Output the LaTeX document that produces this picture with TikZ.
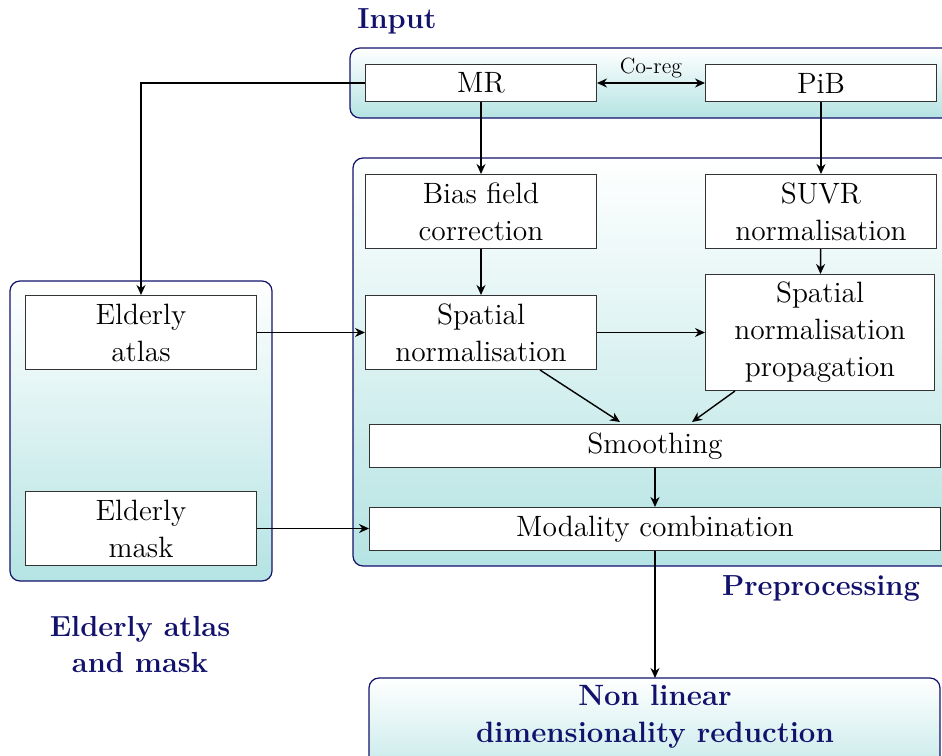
\documentclass[tikz,border=0pt]{standalone}
\usepackage{tikz}
\usetikzlibrary{arrows.meta,positioning}
\definecolor{navy}{RGB}{18,18,108}
\definecolor{teal2}{RGB}{181,227,227}
\tikzset{
  x=0.5pt,y=-0.5pt,
  every node/.style={font=\fontsize{14.7}{18.5}\selectfont},
  stepbox/.style={draw=black!80,fill=white,line width=0.55pt,align=center,inner sep=0pt},
  groupbox/.style={draw=navy,line width=0.6pt,rounded corners=5pt,top color=white,bottom color=teal2},
  grouplabel/.style={text=navy,font=\fontsize{14.5}{18}\selectfont\bfseries,align=center},
  tip/.style={Stealth[length=5pt,width=4.5pt]},
  conn/.style={-{Stealth[length=5pt,width=4.5pt]},line width=0.7pt},
}
\begin{document}
\begin{tikzpicture}
\clip (0,0) rectangle (942,755);
% group backgrounds
\path[groupbox] (350,48) rectangle (1000,118);
\path[groupbox] (353,158) rectangle (1000,566);
\path[groupbox] (10,281) rectangle (272,581);
\path[groupbox] (369,678) rectangle (940,800);
% labels
\node[grouplabel] (linput) at (397,21) {Input};
\node[grouplabel] (lpre) at (821,588) {Preprocessing};
\node[grouplabel] (lelder) at (140,645) {Elderly atlas\\and mask};
\node[grouplabel,font=\fontsize{14.7}{18.5}\selectfont\bfseries] (nldr) at (655,717) {Non linear\\dimensionality reduction};
\coordinate (nldrtop) at (655,678);
% boxes: defined by corners
\newcommand{\stepnode}[6]{\node[stepbox,minimum width=#4*0.5pt-0.55pt,minimum height=#5*0.5pt-0.55pt] (#1) at ({(#2+#2+#4)/2},{#3+#5/2}) {#6};}
\stepnode{mr}{365}{64}{232}{38}{MR}
\stepnode{pib}{705}{64}{232}{38}{PiB}
\stepnode{bias}{365}{174}{232}{75}{Bias field\\correction}
\stepnode{suvr}{705}{174}{232}{75}{SUVR\\normalisation}
\stepnode{snorm}{365}{295}{232}{75}{Spatial\\normalisation}
\stepnode{prop}{705}{274}{230}{117}{Spatial\\normalisation\\propagation}
\stepnode{smooth}{369}{424}{572}{44}{Smoothing}
\stepnode{modal}{369}{507}{572}{44}{Modality combination}
\stepnode{atlas}{25}{295}{232}{75}{Elderly\\atlas}
\stepnode{mask}{25}{491}{232}{75}{Elderly\\mask}
% connectors
\draw[{Stealth[length=5pt,width=4.5pt]}-{Stealth[length=5pt,width=4.5pt]},line width=0.7pt] (mr) -- node[above=-1pt,font=\fontsize{11}{13}\selectfont] (coreg) {Co-reg} (pib);
\draw[conn] (mr.west) -| (atlas.north);
\draw[conn] (mr) -- (bias);
\draw[conn] (pib) -- (suvr);
\draw[conn] (bias) -- (snorm);
\draw[conn] (suvr) -- (prop);
\draw[conn] (atlas) -- (snorm);
\draw[conn] (snorm) -- (prop);
\coordinate (s1) at (540,370);
\coordinate (s2) at (620,422);
\coordinate (p1) at (735,391);
\coordinate (p2) at (692,422);
\draw[conn] (s1) -- (s2);
\draw[conn] (p1) -- (p2);
\coordinate (sm1) at (655,468);
\coordinate (sm2) at (655,507);
\draw[conn] (sm1) -- (sm2);
\draw[conn] (mask) -- (mask -| modal.west);
\coordinate (mo1) at (655,551);
\draw[conn] (mo1) -- (nldrtop);
\end{tikzpicture}
\end{document}
